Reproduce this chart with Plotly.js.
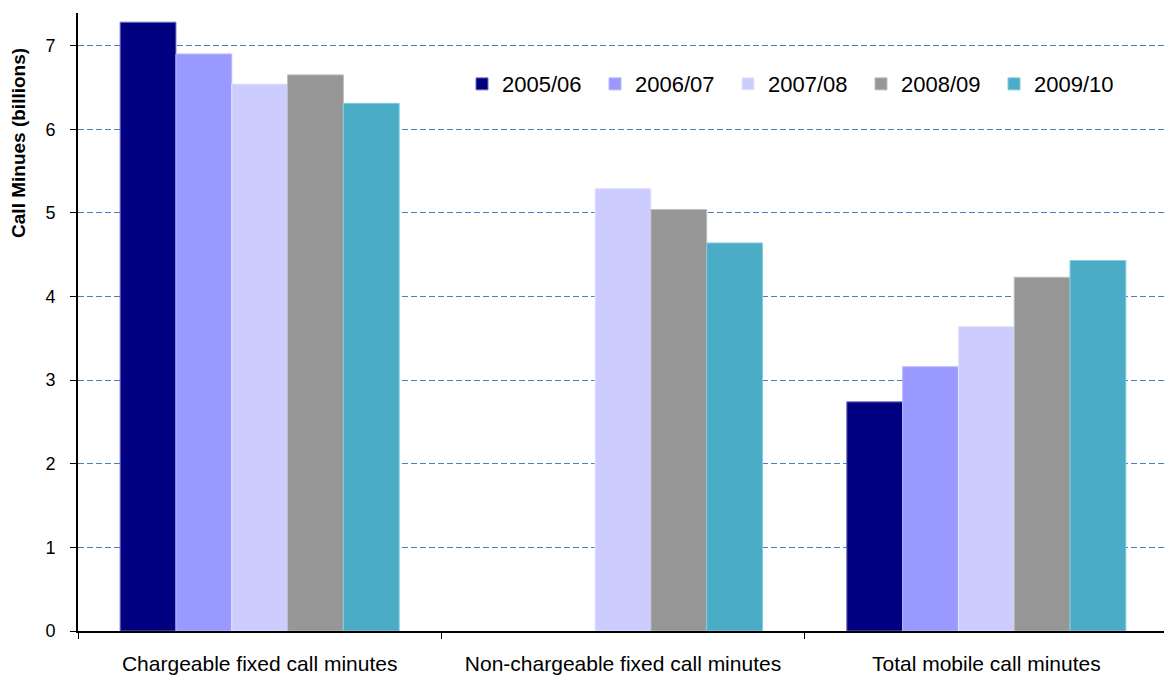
<!DOCTYPE html>
<html>
<head>
<meta charset="utf-8">
<script src="https://cdn.plot.ly/plotly-3.0.1.min.js"></script>
<style>
  html, body { margin: 0; padding: 0; background: #fff; overflow: hidden; }
  #chart { width: 1168px; height: 677px; }
</style>
</head>
<body>
<div id="chart"></div>
<script>
// Call minutes by type, in billions, per financial year
const categories = ["Chargeable fixed call minutes", "Non-chargeable fixed call minutes", "Total mobile call minutes"];
const years = ["2005/06", "2006/07", "2007/08", "2008/09", "2009/10"];
const y2005 = [7.28, null, 2.74];
const y2006 = [6.90, null, 3.16];
const y2007 = [6.54, 5.29, 3.64];
const y2008 = [6.65, 5.04, 4.23];
const y2009 = [6.31, 4.64, 4.43];
const yTicks = [0, 1, 2, 3, 4, 5, 6, 7];
const yTitle = "Call Minues (billions)";

const seriesValues = [y2005, y2006, y2007, y2008, y2009];
const fills = ["#000080", "#9999FF", "#CCCCFF", "#969696", "#4BACC6"];
const edges = ["#6f6fb8", "#b8b8ff", "#e6e6ff", "#bdbdbd", "#86cbdc"];

const traces = years.map((yr, i) => ({
  type: "bar",
  name: yr,
  x: categories,
  y: seriesValues[i],
  marker: { color: fills[i], line: { color: edges[i], width: 1 } },
  hoverinfo: "x+y+name"
}));

const FONT = "Liberation Sans, Arial, sans-serif";

const layout = {
  width: 1168,
  height: 677,
  margin: { l: 78, r: 0, t: 13, b: 46 },
  paper_bgcolor: "#ffffff",
  plot_bgcolor: "#ffffff",
  font: { family: FONT, color: "#000" },
  barmode: "group",
  bargap: 0.232,
  bargroupgap: 0,
  showlegend: true,
  legend: {
    orientation: "h",
    x: 0.3523, y: 0.885,
    xanchor: "left", yanchor: "middle",
    font: { size: 22, family: FONT },
    itemwidth: 30,
    entrywidth: 88,
    traceorder: "normal",
    bgcolor: "rgba(0,0,0,0)"
  },
  xaxis: {
    type: "category",
    showline: true,
    linecolor: "#000",
    linewidth: 2,
    ticks: "outside",
    tickson: "boundaries",
    ticklen: 6,
    tickcolor: "#000",
    tickfont: { size: 21 },
    ticklabelstandoff: 13,
    showgrid: false,
    zeroline: false,
    fixedrange: true
  },
  yaxis: {
    range: [0, 7.39],
    tickvals: yTicks,
    ticktext: yTicks.map(String),
    showline: true,
    linecolor: "#000",
    linewidth: 2,
    ticks: "outside",
    ticklen: 6,
    tickcolor: "#000",
    tickfont: { size: 18 },
    ticklabelstandoff: 11,
    showgrid: true,
    gridcolor: "#4a7ebb",
    griddash: "6px,3px",
    gridwidth: 1,
    zeroline: false,
    fixedrange: true
  },
  annotations: [{
    text: "<b>" + yTitle + "</b>",
    textangle: -90,
    xref: "paper", yref: "paper",
    x: -0.054, y: 0.79,
    xanchor: "center", yanchor: "middle",
    showarrow: false,
    font: { size: 19, family: FONT }
  }]
};

Plotly.newPlot("chart", traces, layout, { displayModeBar: false, staticPlot: true });
</script>
</body>
</html>
